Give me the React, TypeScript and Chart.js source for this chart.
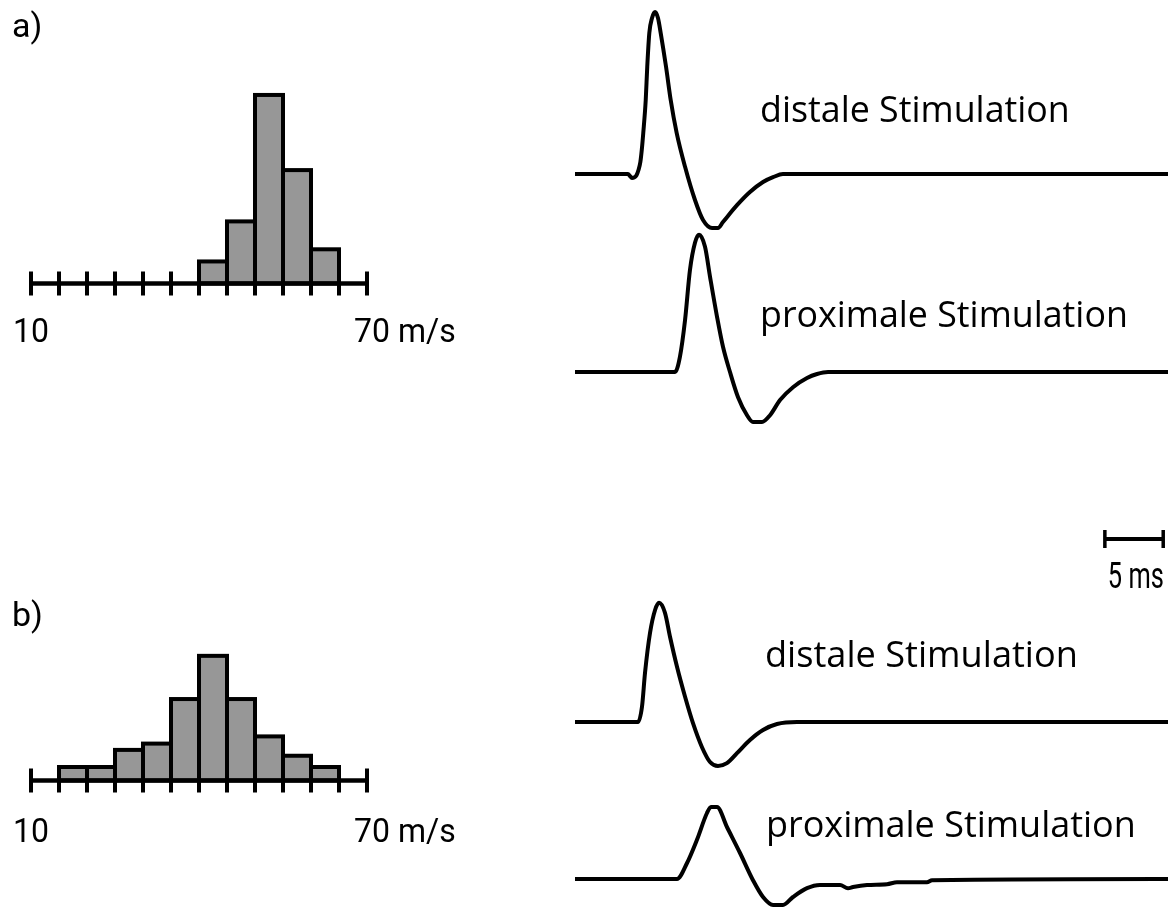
import React, { useEffect, useRef } from "react";
import { Chart, registerables } from "chart.js";

Chart.register(...registerables);

// ---------------- data ----------------
// conduction velocity histograms (bins of 5 m/s, relative frequency %)
const speedBinStarts = [10, 15, 20, 25, 30, 35, 40, 45, 50, 55, 60, 65];
const speedBinWidth = 5;
const histogramA = [0, 0, 0, 0, 0, 0, 4.9, 13.8, 41.9, 25.2, 7.6, 0];
const histogramB = [0, 3, 3, 6.8, 8.2, 18.1, 27.7, 18.1, 9.8, 5.5, 3, 0];
const speedTicks = [10, 15, 20, 25, 30, 35, 40, 45, 50, 55, 60, 65, 70];
const speedMin = 10;
const speedMax = 70;
const speedAxisLabels = ["10", "70 m/s"];
const panelLabels = ["a)", "b)"];

// compound action potentials: time (ms) / amplitude (mV)
const timeADistal = [0, 4.54, 4.71, 4.88, 5.06, 5.27, 5.44, 5.6, 5.72, 5.85, 6.06, 6.19, 6.37, 6.6, 6.86, 7.11, 7.34, 7.8, 8.2, 8.71, 9.43, 10.28, 10.97, 11.74, 12.25, 12.68, 13.88, 14.99, 16.11, 16.97, 17.82, 50.81];
const ampADistal = [0, 0, -0.05, -0.1, -0.09, -0.03, 0.1, 0.3, 0.6, 1.03, 1.85, 2.68, 3.53, 3.9, 4.05, 3.9, 3.53, 2.68, 1.85, 1.03, 0.18, -0.65, -1.15, -1.35, -1.35, -1.2, -0.78, -0.45, -0.2, -0.08, 0, 0];

const timeAProximal = [0, 8.57, 8.99, 9.43, 9.85, 10.28, 10.63, 11.14, 11.57, 12.17, 12.68, 13.28, 13.97, 14.74, 15.25, 16.02, 16.71, 17.57, 18.68, 19.88, 20.74, 21.68, 50.81];
const ampAProximal = [0, 0, 0.38, 1.3, 2.55, 3.23, 3.43, 3.13, 2.38, 1.38, 0.63, 0, -0.63, -1.08, -1.25, -1.25, -1.08, -0.7, -0.38, -0.15, -0.05, 0, 0];

const timeBDistal = [0, 5.4, 5.74, 6.0, 6.43, 6.86, 7.2, 7.71, 8.14, 8.74, 9.43, 10.11, 10.88, 11.57, 12.25, 13.02, 13.88, 14.99, 16.11, 17.31, 19.02, 50.81];
const ampBDistal = [0, 0, 0.38, 1.23, 2.23, 2.8, 2.98, 2.73, 2.13, 1.38, 0.63, -0.03, -0.63, -1.0, -1.1, -1.03, -0.78, -0.45, -0.2, -0.05, 0, 0];

const timeBProximal = [0, 8.74, 9.6, 10.45, 11.31, 11.65, 12.17, 13.02, 14.14, 15.25, 16.11, 16.97, 17.82, 18.68, 19.88, 20.99, 22.71, 23.39, 23.82, 25.02, 26.74, 27.59, 30.16, 30.59, 50.81];
const ampBProximal = [0, 0, 0.4, 0.98, 1.65, 1.8, 1.8, 1.3, 0.65, -0.03, -0.45, -0.65, -0.65, -0.45, -0.23, -0.15, -0.15, -0.23, -0.2, -0.15, -0.13, -0.08, -0.08, -0.03, 0];

const stimLabels = ["distale Stimulation", "proximale Stimulation", "distale Stimulation", "proximale Stimulation"];
const scaleBarMs = 5;
const scaleBarLabel = "5 ms";
const timeMin = 0;
const timeMax = 50.81;

// ---------------- layout (pixels) ----------------
const PAGE_W = 1176;
const PAGE_H = 908;
const HIST = { left: 0, width: 560, padLeft: 31, padRight: 193, baselines: [283.5, 780.5], pxPerUnit: 4.5, labelBaselines: [341.5, 841.5], panelLabelBaselines: [37, 626] };
const TRACE = { left: 560, width: 616, padLeft: 15, padRight: 8, baselines: [174, 372, 722, 879], pxPerMv: 40, scaleBarEnd: 50.4, scaleBarY: 539, scaleLabelBaseline: 588, scaleLabelWidth: 56 };
const LABEL_POS = [
  { x: 760, y: 122, w: 310 },
  { x: 760, y: 327, w: 368 },
  { x: 765, y: 667, w: 313 },
  { x: 766, y: 837, w: 370 },
];

function fitFontSize(ctx: CanvasRenderingContext2D, text: string, family: string, target: number) {
  ctx.font = `100px ${family}`;
  const w = ctx.measureText(text).width;
  return (100 * target) / w;
}

const histPlugin = {
  id: "histDecor",
  afterDatasetsDraw(chart: any) {
    const ctx: CanvasRenderingContext2D = chart.ctx;
    const xs = chart.scales.x;
    ["yA", "yB"].forEach((id, k) => {
      const meta = chart.getDatasetMeta(k);
      ctx.save();
      ctx.strokeStyle = "#000";
      ctx.fillStyle = "#000";
      ctx.lineWidth = 4;
      ctx.lineJoin = "miter";
      meta.data.forEach((el: any) => {
        const p = el.getProps(["x", "y", "base", "width"], true);
        ctx.strokeRect(p.x - p.width / 2, p.y, p.width, p.base - p.y);
      });
      const y0 = chart.scales[id].getPixelForValue(0);
      ctx.lineWidth = 4.5;
      ctx.beginPath();
      ctx.moveTo(xs.getPixelForValue(speedMin), y0);
      ctx.lineTo(xs.getPixelForValue(speedMax), y0);
      ctx.stroke();
      ctx.lineWidth = 4;
      ctx.beginPath();
      speedTicks.forEach((t) => {
        const px = xs.getPixelForValue(t);
        ctx.moveTo(px, y0 - 12);
        ctx.lineTo(px, y0 + 12);
      });
      ctx.stroke();
      ctx.textBaseline = "alphabetic";
      const ly = HIST.labelBaselines[k];
      ctx.save();
      ctx.translate(0, ly);
      ctx.scale(1, 1.06);
      ctx.font = "32px Roboto";
      ctx.textAlign = "center";
      ctx.fillText(speedAxisLabels[0], xs.getPixelForValue(speedMin), 0);
      ctx.textAlign = "left";
      ctx.fillText(speedAxisLabels[1], xs.getPixelForValue(speedMax) - 13, 0);
      ctx.restore();
      ctx.font = "34px Roboto";
      ctx.textAlign = "left";
      ctx.fillText(panelLabels[k], 12, HIST.panelLabelBaselines[k]);
      ctx.restore();
    });
  },
};

const tracePlugin = {
  id: "traceDecor",
  afterDatasetsDraw(chart: any) {
    const ctx: CanvasRenderingContext2D = chart.ctx;
    const xs = chart.scales.x;
    ctx.save();
    ctx.strokeStyle = "#000";
    ctx.fillStyle = "#000";
    // scale bar
    const x1 = xs.getPixelForValue(TRACE.scaleBarEnd - scaleBarMs);
    const x2 = xs.getPixelForValue(TRACE.scaleBarEnd);
    const yb = TRACE.scaleBarY;
    ctx.lineWidth = 4;
    ctx.beginPath();
    ctx.moveTo(x1, yb);
    ctx.lineTo(x2, yb);
    ctx.stroke();
    ctx.lineWidth = 3.5;
    ctx.beginPath();
    ctx.moveTo(x1, yb - 9);
    ctx.lineTo(x1, yb + 9);
    ctx.moveTo(x2, yb - 9);
    ctx.lineTo(x2, yb + 9);
    ctx.stroke();
    // condensed "5 ms" label
    ctx.font = "30px Roboto";
    const w = ctx.measureText(scaleBarLabel).width;
    ctx.save();
    ctx.translate(x1 + 3, TRACE.scaleLabelBaseline);
    ctx.scale(TRACE.scaleLabelWidth / w, 1.25);
    ctx.textAlign = "left";
    ctx.textBaseline = "alphabetic";
    ctx.fillText(scaleBarLabel, 0, 0);
    ctx.restore();
    // stimulation labels
    stimLabels.forEach((txt, i) => {
      const pos = LABEL_POS[i];
      const size = fitFontSize(ctx, txt, "'Open Sans'", pos.w);
      ctx.font = `${size}px 'Open Sans'`;
      ctx.textAlign = "left";
      ctx.textBaseline = "alphabetic";
      ctx.fillText(txt, pos.x - TRACE.left, pos.y);
    });
    ctx.restore();
  },
};

function toPoints(t: number[], v: number[]) {
  return t.map((x, i) => ({ x, y: v[i] }));
}

export default function App() {
  const histRef = useRef<HTMLCanvasElement | null>(null);
  const traceRef = useRef<HTMLCanvasElement | null>(null);

  useEffect(() => {
    document.body.style.margin = "0";
    const charts: Chart[] = [];

    if (histRef.current) {
      const mk = (vals: number[]) =>
        speedBinStarts
          .map((s, i) => ({ x: s + speedBinWidth / 2, y: vals[i] }))
          .filter((p) => p.y > 0);
      const yAxis = (b: number) => ({
        type: "linear" as const,
        display: false,
        min: -(PAGE_H - b) / HIST.pxPerUnit,
        max: b / HIST.pxPerUnit,
      });
      charts.push(
        new Chart(histRef.current, {
          type: "bar",
          data: {
            datasets: [
              { data: mk(histogramA) as any, yAxisID: "yA", backgroundColor: "#979797", borderWidth: 0, grouped: false, barPercentage: 1, categoryPercentage: 1 },
              { data: mk(histogramB) as any, yAxisID: "yB", backgroundColor: "#979797", borderWidth: 0, grouped: false, barPercentage: 1, categoryPercentage: 1 },
            ],
          },
          options: {
            responsive: false,
            animation: false,
            devicePixelRatio: 1,
            layout: { padding: { left: HIST.padLeft, right: HIST.padRight, top: 0, bottom: 0 } },
            plugins: { legend: { display: false }, tooltip: { enabled: false } },
            scales: {
              x: { type: "linear", display: false, min: speedMin, max: speedMax, offset: false },
              yA: yAxis(HIST.baselines[0]),
              yB: yAxis(HIST.baselines[1]),
            },
          },
          plugins: [histPlugin],
        } as any)
      );
    }

    if (traceRef.current) {
      const series = [
        [timeADistal, ampADistal],
        [timeAProximal, ampAProximal],
        [timeBDistal, ampBDistal],
        [timeBProximal, ampBProximal],
      ];
      const scales: any = {
        x: { type: "linear", display: false, min: timeMin, max: timeMax },
      };
      TRACE.baselines.forEach((b, i) => {
        scales["y" + i] = {
          type: "linear",
          display: false,
          min: -(PAGE_H - b) / TRACE.pxPerMv,
          max: b / TRACE.pxPerMv,
        };
      });
      charts.push(
        new Chart(traceRef.current, {
          type: "line",
          data: {
            datasets: series.map(([t, v], i) => ({
              data: toPoints(t, v),
              yAxisID: "y" + i,
              borderColor: "#000",
              borderWidth: 4,
              pointRadius: 0,
              cubicInterpolationMode: "monotone",
              borderJoinStyle: "round",
              fill: false,
            })),
          },
          options: {
            responsive: false,
            animation: false,
            devicePixelRatio: 1,
            layout: { padding: { left: TRACE.padLeft, right: TRACE.padRight, top: 0, bottom: 0 } },
            plugins: { legend: { display: false }, tooltip: { enabled: false } },
            scales,
          },
          plugins: [tracePlugin],
        } as any)
      );
    }

    return () => charts.forEach((c) => c.destroy());
  }, []);

  return (
    <div style={{ position: "absolute", left: 0, top: 0, width: PAGE_W, height: PAGE_H, background: "#fff", overflow: "hidden" }}>
      <canvas
        ref={histRef}
        width={HIST.width}
        height={PAGE_H}
        style={{ position: "absolute", left: HIST.left, top: 0, width: HIST.width, height: PAGE_H }}
      />
      <canvas
        ref={traceRef}
        width={TRACE.width}
        height={PAGE_H}
        style={{ position: "absolute", left: TRACE.left, top: 0, width: TRACE.width, height: PAGE_H }}
      />
    </div>
  );
}
